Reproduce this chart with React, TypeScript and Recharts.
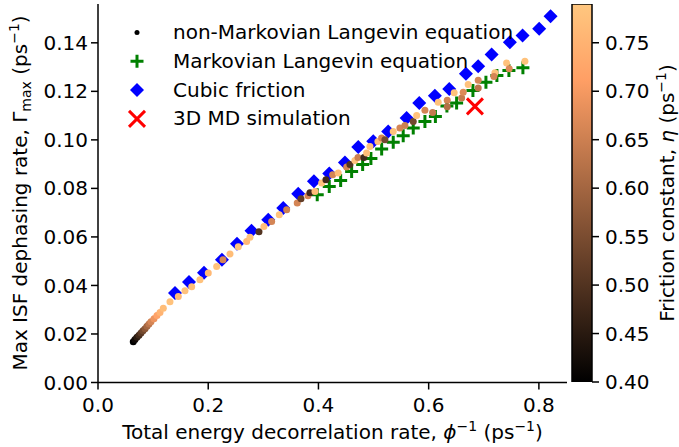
import React from 'react';
import { Bar, BarChart, Scatter, ScatterChart, XAxis, YAxis } from 'recharts';

const FONT = "'DejaVu Sans', sans-serif";

// non-Markovian Langevin equation: decorrelation rate, dephasing rate, friction constant
const nmPhi = [
  0.064, 0.0671, 0.0707, 0.0744, 0.078, 0.0816, 0.0853, 0.0889, 0.0925, 0.0961, 0.1016, 0.107, 0.1125, 0.1185,
  0.1306, 0.1457, 0.1578, 0.17, 0.185, 0.2001, 0.2153, 0.2268, 0.2395, 0.2545, 0.2697, 0.2757, 0.2921, 0.3011,
  0.3151, 0.3289, 0.3423, 0.3615, 0.3683, 0.381, 0.3846, 0.3937, 0.4058, 0.4136, 0.4258, 0.4359, 0.4512, 0.4571,
  0.4662, 0.4717, 0.4825, 0.4874, 0.4934, 0.5079, 0.5146, 0.5206, 0.5357, 0.5478, 0.5569, 0.572, 0.5782, 0.5932,
  0.6072, 0.6173, 0.6337, 0.6337, 0.6463, 0.6598, 0.6627, 0.6717, 0.6899, 0.6899, 0.7202, 0.7184, 0.7414, 0.7461,
  0.7746,
];
const nmGamma = [
  0.0168, 0.0177, 0.0186, 0.0195, 0.0204, 0.0213, 0.0222, 0.0232, 0.0241, 0.025, 0.0263, 0.0276, 0.0289, 0.0306,
  0.0333, 0.0354, 0.0378, 0.0395, 0.0423, 0.0451, 0.0478, 0.0506, 0.053, 0.056, 0.0581, 0.0599, 0.0621, 0.0643,
  0.0664, 0.0691, 0.0712, 0.074, 0.0757, 0.077, 0.0782, 0.0787, 0.0822, 0.0836, 0.0856, 0.0863, 0.0888, 0.0898,
  0.0915, 0.0927, 0.0927, 0.0946, 0.0973, 0.0993, 0.1008, 0.1001, 0.1035, 0.1049, 0.1059, 0.1076, 0.11, 0.1122,
  0.1113, 0.1155, 0.1163, 0.1136, 0.1194, 0.1173, 0.1196, 0.1228, 0.1246, 0.1214, 0.1277, 0.1261, 0.1317, 0.1293,
  0.1324,
];
const nmEta = [
  0.4, 0.42, 0.45, 0.48, 0.51, 0.54, 0.57, 0.6, 0.63, 0.66, 0.69, 0.72, 0.75, 0.77,
  0.78, 0.76, 0.78, 0.77, 0.78, 0.76, 0.78, 0.66, 0.77, 0.78, 0.76, 0.78, 0.5, 0.77,
  0.66, 0.78, 0.65, 0.66, 0.52, 0.66, 0.48, 0.77, 0.78, 0.48, 0.66, 0.77, 0.66, 0.5,
  0.78, 0.65, 0.48, 0.77, 0.78, 0.77, 0.66, 0.54, 0.78, 0.66, 0.65, 0.54, 0.78, 0.66,
  0.64, 0.78, 0.66, 0.62, 0.78, 0.64, 0.67, 0.78, 0.66, 0.63, 0.78, 0.66, 0.78, 0.67,
  0.78,
];

// Markovian Langevin equation
const mkPhi = [
  0.3978, 0.4196, 0.4403, 0.4602, 0.4802, 0.4952, 0.5147, 0.5357, 0.5538, 0.572, 0.5932, 0.6122, 0.6331, 0.6507,
  0.6803, 0.7039, 0.7238, 0.7456, 0.771,
];
const mkGamma = [
  0.0774, 0.0808, 0.0833, 0.087, 0.0898, 0.0923, 0.0962, 0.099, 0.1017, 0.1049, 0.1076, 0.1096, 0.114, 0.1152,
  0.1203, 0.1238, 0.1265, 0.1286, 0.1297,
];

// cubic friction
const cubicPhi = [
  0.1397, 0.1651, 0.1923, 0.2249, 0.2522, 0.2785, 0.3089, 0.3361, 0.3633, 0.3918, 0.4196, 0.4481, 0.4722, 0.4994,
  0.5266, 0.56, 0.5829, 0.6113, 0.6373, 0.6676, 0.6899, 0.7142, 0.7474, 0.7704, 0.8005, 0.8212,
];
const cubicGamma = [
  0.0369, 0.0414, 0.0452, 0.0506, 0.0572, 0.0625, 0.0671, 0.0719, 0.0778, 0.0829, 0.0861, 0.0907, 0.0971, 0.0994,
  0.1035, 0.109, 0.1152, 0.1182, 0.121, 0.1273, 0.1303, 0.1352, 0.1402, 0.143, 0.1458, 0.151,
];

// 3D MD simulation
const mdPhi = [0.6839];
const mdGamma = [0.1138];

const xTicks = [0, 0.2, 0.4, 0.6, 0.8];
const yTicks = [0, 0.02, 0.04, 0.06, 0.08, 0.1, 0.12, 0.14];
const etaTicks = [0.4, 0.45, 0.5, 0.55, 0.6, 0.65, 0.7, 0.75];
const etaRange = [0.4, 0.79];

const nmData = nmPhi.map((x, i) => ({ x, y: nmGamma[i], eta: nmEta[i] }));
const mkData = mkPhi.map((x, i) => ({ x, y: mkGamma[i] }));
const cubicData = cubicPhi.map((x, i) => ({ x, y: cubicGamma[i] }));
const mdData = mdPhi.map((x, i) => ({ x, y: mdGamma[i] }));
const cbData = [{ name: 'eta', range: etaRange }];

// matplotlib "copper"
function copper(eta: number) {
  const t = Math.max(0, Math.min(1, (eta - etaRange[0]) / (etaRange[1] - etaRange[0])));
  const r = Math.round(255 * Math.min(1, 1.25 * t));
  const g = Math.round(255 * 0.7812 * t);
  const b = Math.round(255 * 0.4975 * t);
  return `rgb(${r},${g},${b})`;
}

const Dot = (p: any) => <circle cx={p.cx} cy={p.cy} r={3.5} fill={copper(p.payload.eta)} />;
const Plus = (p: any) => (
  <path d={`M${p.cx - 6.5},${p.cy}H${p.cx + 6.5}M${p.cx},${p.cy - 6.5}V${p.cy + 6.5}`} stroke="#008000" strokeWidth={3} />
);
const Diamond = (p: any) => (
  <path d={`M${p.cx},${p.cy - 7}L${p.cx + 7},${p.cy}L${p.cx},${p.cy + 7}L${p.cx - 7},${p.cy}Z`} fill="#0000ff" />
);
const Cross = (p: any) => (
  <path
    d={`M${p.cx - 8},${p.cy - 8}L${p.cx + 8},${p.cy + 8}M${p.cx - 8},${p.cy + 8}L${p.cx + 8},${p.cy - 8}`}
    stroke="#ff0000"
    strokeWidth={3}
  />
);

const tickStyle = { fill: '#000', fontSize: 20, fontFamily: FONT };
const lineStyle = { stroke: '#000', strokeWidth: 1.5 };
const titleProps = { fontSize: 20, fontFamily: FONT, fill: '#000', textAnchor: 'middle' as const };

const legendRows = [
  { label: 'non-Markovian Langevin equation', kind: 'dot' },
  { label: 'Markovian Langevin equation', kind: 'plus' },
  { label: 'Cubic friction', kind: 'diamond' },
  { label: '3D MD simulation', kind: 'cross' },
];

function LegendMarker({ kind, cx, cy }: { kind: string; cx: number; cy: number }) {
  if (kind === 'dot') return <circle cx={cx} cy={cy} r={2.5} fill="#000" />;
  if (kind === 'plus') return <Plus cx={cx} cy={cy} />;
  if (kind === 'diamond') return <Diamond cx={cx} cy={cy} />;
  return <Cross cx={cx} cy={cy} />;
}

export default function App() {
  return (
    <div style={{ position: 'absolute', left: 0, top: 0, width: 679, height: 447, background: '#fff' }}>
      <div style={{ position: 'absolute', left: 0, top: 0 }}>
        <BarChart width={679} height={447} data={cbData} margin={{ top: 4, right: 0, bottom: 65, left: 572 }} barCategoryGap={0}>
          <defs>
            <linearGradient id="copperGrad" x1="0" y1="0" x2="0" y2="1">
              <stop offset="0%" stopColor={copper(0.79)} />
              <stop offset="20%" stopColor={copper(0.712)} />
              <stop offset="100%" stopColor={copper(0.4)} />
            </linearGradient>
          </defs>
          <XAxis dataKey="name" hide />
          <YAxis
            orientation="right"
            type="number"
            width={87}
            domain={etaRange}
            ticks={etaTicks}
            allowDataOverflow
            tickFormatter={(v: number) => v.toFixed(2)}
            axisLine={false}
            tickLine={lineStyle}
            tickSize={7}
            tickMargin={6}
            tick={tickStyle}
            label={() => (
              <text x={674} y={193} transform="rotate(-90 674 193)" {...titleProps}>
                Friction constant, <tspan fontStyle="italic">η</tspan> (ps
                <tspan dy={-8} fontSize={14}>−1</tspan>
                <tspan dy={8}>)</tspan>
              </text>
            )}
          />
          <Bar dataKey="range" fill="url(#copperGrad)" stroke="#000" strokeWidth={1.5} isAnimationActive={false} />
        </BarChart>
      </div>
      <div style={{ position: 'absolute', left: 0, top: 0 }}>
        <ScatterChart width={570} height={447} margin={{ top: 4, right: 3, bottom: 0, left: 0 }}>
          <XAxis
            type="number"
            dataKey="x"
            domain={[0, 0.851]}
            ticks={xTicks}
            allowDataOverflow
            height={64.5}
            tickFormatter={(v: number) => v.toFixed(1)}
            axisLine={lineStyle}
            tickLine={lineStyle}
            tickSize={7}
            tickMargin={8}
            tick={tickStyle}
            label={() => (
              <text x={332.5} y={439} {...titleProps}>
                Total energy decorrelation rate, <tspan fontStyle="italic">ϕ</tspan>
                <tspan dy={-8} fontSize={14}>−1</tspan>
                <tspan dy={8}> (ps</tspan>
                <tspan dy={-8} fontSize={14}>−1</tspan>
                <tspan dy={8}>)</tspan>
              </text>
            )}
          />
          <YAxis
            type="number"
            dataKey="y"
            domain={[0, 0.156]}
            ticks={yTicks}
            allowDataOverflow
            width={98}
            tickFormatter={(v: number) => v.toFixed(2)}
            axisLine={lineStyle}
            tickLine={lineStyle}
            tickSize={7}
            tickMargin={3}
            tick={tickStyle}
            label={() => (
              <text x={27} y={193} transform="rotate(-90 27 193)" {...titleProps}>
                Max ISF dephasing rate, Γ<tspan dy={4} fontSize={14}>max</tspan>
                <tspan dy={-4}> (ps</tspan>
                <tspan dy={-8} fontSize={14}>−1</tspan>
                <tspan dy={8}>)</tspan>
              </text>
            )}
          />
          <XAxis xAxisId="top" orientation="top" type="number" domain={[0, 0.851]} height={0} tick={false} tickLine={false} axisLine={lineStyle} />
          <YAxis yAxisId="right" orientation="right" type="number" domain={[0, 0.156]} width={0} tick={false} tickLine={false} axisLine={lineStyle} />
          <Scatter data={mkData} shape={Plus} isAnimationActive={false} />
          <Scatter data={cubicData} shape={Diamond} isAnimationActive={false} />
          <Scatter data={nmData} shape={Dot} isAnimationActive={false} />
          <Scatter data={mdData} shape={Cross} isAnimationActive={false} />
        </ScatterChart>
      </div>
      <svg width={679} height={447} style={{ position: 'absolute', left: 0, top: 0, pointerEvents: 'none' }}>
        {legendRows.map((row, i) => (
          <g key={row.label}>
            <LegendMarker kind={row.kind} cx={137} cy={32.5 + 28.8 * i} />
            <text x={173} y={39 + 28.8 * i} fontSize={20} fontFamily={FONT} fill="#000">
              {row.label}
            </text>
          </g>
        ))}
      </svg>
    </div>
  );
}
